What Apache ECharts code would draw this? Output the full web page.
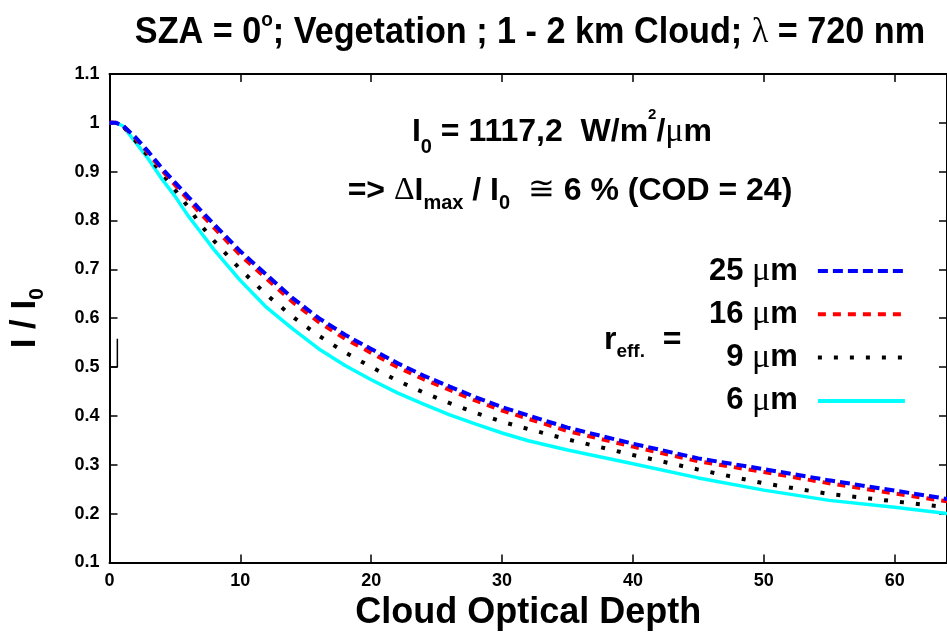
<!DOCTYPE html>
<html>
<head>
<meta charset="utf-8">
<script src="https://cdn.jsdelivr.net/npm/echarts@6/dist/echarts.min.js"></script>
<style>
  html, body { margin: 0; padding: 0; background: #fff; }
  #chart { width: 947px; height: 641px; }
</style>
</head>
<body>
<div id="chart"></div>
<script>
// Cloud optical depth samples (x) and normalised radiance I/I0 for each effective radius
const cod = [0, 0.5, 1, 2, 3, 4, 5, 6, 7, 8, 10, 12, 14, 16, 18, 20, 22, 24, 26, 28, 30, 32, 35, 40, 45, 50, 55, 60, 64];
const reff25 = [1.0, 1.0, 0.995, 0.970, 0.940, 0.907, 0.878, 0.849, 0.820, 0.792, 0.737, 0.689, 0.641, 0.600, 0.566, 0.537, 0.508, 0.4825, 0.460, 0.438, 0.418, 0.401, 0.376, 0.343, 0.313, 0.291, 0.268, 0.247, 0.230];
const reff16 = [1.0, 1.0, 0.995, 0.968, 0.937, 0.903, 0.873, 0.843, 0.813, 0.785, 0.729, 0.681, 0.633, 0.592, 0.558, 0.529, 0.500, 0.475, 0.453, 0.431, 0.411, 0.394, 0.369, 0.337, 0.307, 0.285, 0.262, 0.241, 0.225];
const reff9  = [1.0, 1.0, 0.994, 0.963, 0.930, 0.897, 0.863, 0.828, 0.790, 0.758, 0.700, 0.648, 0.603, 0.564, 0.530, 0.500, 0.472, 0.448, 0.426, 0.406, 0.388, 0.373, 0.352, 0.320, 0.290, 0.262, 0.240, 0.225, 0.213];
const reff6  = [1.0, 1.0, 0.994, 0.960, 0.925, 0.885, 0.850, 0.810, 0.775, 0.740, 0.677, 0.622, 0.578, 0.537, 0.503, 0.474, 0.447, 0.424, 0.402, 0.383, 0.365, 0.349, 0.330, 0.302, 0.273, 0.248, 0.227, 0.213, 0.200];

// Small bracket mark near the left axis
const bracketX = [0, 0.6, 0.6];
const bracketY = [0.5, 0.5, 0.558];

const seriesNames = ['25 μm', '16 μm', '9 μm', '6 μm'];
const xRange = [0, 64];
const yRange = [0.1, 1.1];

const SANS = "'Liberation Sans', Arial, Helvetica, sans-serif";
const SERIF = "'Liberation Serif', 'DejaVu Serif', serif";

const pairs = (xs, ys) => xs.map((x, i) => [x, ys[i]]);

const chart = echarts.init(document.getElementById('chart'), null, { renderer: 'canvas' });

const frameAxisLine = { show: true, onZero: false, lineStyle: { color: '#000', width: 2 } };
const frameTick = { show: true, inside: true, length: 8, lineStyle: { color: '#000', width: 1.5 } };
const tickFont = { color: '#000', fontFamily: SANS, fontWeight: 'bold', fontSize: 18 };

const option = {
  animation: false,
  backgroundColor: '#fff',
  grid: { left: 108, top: 74, width: 842, height: 488.4, containLabel: false },
  xAxis: [
    {
      type: 'value', min: xRange[0], max: xRange[1], interval: 10, position: 'bottom',
      axisLine: frameAxisLine, axisTick: frameTick, splitLine: { show: false },
      axisLabel: Object.assign({ margin: 10, showMaxLabel: false }, tickFont),
      name: 'Cloud Optical Depth', nameLocation: 'middle', nameGap: 33,
      nameTextStyle: { color: '#000', fontFamily: SANS, fontWeight: 'bold', fontSize: 36 }
    },
    {
      type: 'value', min: xRange[0], max: xRange[1], interval: 10, position: 'top',
      axisLine: frameAxisLine, axisTick: frameTick, splitLine: { show: false },
      axisLabel: { show: false }
    }
  ],
  yAxis: [
    {
      type: 'value', min: yRange[0], max: yRange[1], interval: 0.1, position: 'left',
      axisLine: frameAxisLine, axisTick: frameTick, splitLine: { show: false },
      axisLabel: Object.assign({ margin: 10 }, tickFont),
      name: '{a|I / I}{s|0}', nameLocation: 'middle', nameRotate: 90, nameGap: 62,
      nameTextStyle: {
        rich: {
          a: { fontFamily: SANS, fontWeight: 'bold', fontSize: 35, lineHeight: 44, color: '#000' },
          s: { fontFamily: SANS, fontWeight: 'bold', fontSize: 21, lineHeight: 21, verticalAlign: 'bottom', color: '#000' }
        }
      }
    },
    {
      type: 'value', min: yRange[0], max: yRange[1], interval: 0.1, position: 'right',
      axisLine: frameAxisLine, axisTick: frameTick, splitLine: { show: false },
      axisLabel: { show: false }
    }
  ],
  legend: {
    orient: 'vertical',
    left: 709,
    top: 254,
    align: 'right',
    padding: 0,
    itemWidth: 87,
    itemHeight: 14,
    itemGap: 9.3,
    data: seriesNames,
    itemStyle: { opacity: 0 },
    lineStyle: { width: 4 },
    formatter: name => '{n|' + name.split(' ')[0] + ' }{mu|μ}{n|m}',
    textStyle: {
      width: 110,
      align: 'right',
      padding: [0, 15, 0, 0],
      rich: {
        n: { fontFamily: SANS, fontWeight: 'bold', fontSize: 31, lineHeight: 30, color: '#000' },
        mu: { fontFamily: SERIF, fontWeight: 'normal', fontSize: 34, lineHeight: 30, color: '#000' }
      }
    }
  },
  graphic: [
    {
      type: 'text', x: 530, y: 33, scaleX: 0.95,
      style: {
        text: '{t|SZA = 0}{sup|o}{t|; Vegetation ; 1 - 2 km Cloud; }{g|λ}{t| = 720 nm}',
        align: 'center', verticalAlign: 'middle',
        rich: {
          t: { fontFamily: SANS, fontWeight: 'bold', fontSize: 36, lineHeight: 46, fill: '#000' },
          sup: { fontFamily: SANS, fontWeight: 'bold', fontSize: 20, lineHeight: 20, verticalAlign: 'top', fill: '#000' },
          g: { fontFamily: SERIF, fontWeight: 'normal', fontSize: 36, lineHeight: 46, fill: '#000' }
        }
      }
    },
    {
      type: 'text', x: 562, y: 132,
      style: {
        text: '{b|I}{s|0}{b| = 1117,2  W/m}{p|2}{b|/}{g|μ}{b|m}',
        align: 'center', verticalAlign: 'middle',
        rich: {
          b: { fontFamily: SANS, fontWeight: 'bold', fontSize: 32, lineHeight: 50, fill: '#000' },
          s: { fontFamily: SANS, fontWeight: 'bold', fontSize: 20, lineHeight: 20, verticalAlign: 'bottom', fill: '#000' },
          p: { fontFamily: SANS, fontWeight: 'bold', fontSize: 15, lineHeight: 15, verticalAlign: 'top', fill: '#000' },
          g: { fontFamily: SERIF, fontWeight: 'normal', fontSize: 34, lineHeight: 50, fill: '#000' }
        }
      }
    },
    {
      type: 'text', x: 570, y: 191,
      style: {
        text: '{b|=> }{g|Δ}{b|I}{s|max}{b| / I}{s|0}{b|  }{g|≅}{b| 6 % (COD = 24)}',
        align: 'center', verticalAlign: 'middle',
        rich: {
          b: { fontFamily: SANS, fontWeight: 'bold', fontSize: 32, lineHeight: 44, fill: '#000' },
          s: { fontFamily: SANS, fontWeight: 'bold', fontSize: 20, lineHeight: 20, verticalAlign: 'bottom', fill: '#000' },
          g: { fontFamily: SERIF, fontWeight: 'normal', fontSize: 32, lineHeight: 44, fill: '#000' }
        }
      }
    },
    {
      type: 'text', x: 604, y: 340,
      style: {
        text: '{b|r}{s|eff.}{b|  =}',
        align: 'left', verticalAlign: 'middle',
        rich: {
          b: { fontFamily: SANS, fontWeight: 'bold', fontSize: 32, lineHeight: 42, fill: '#000' },
          s: { fontFamily: SANS, fontWeight: 'bold', fontSize: 19, lineHeight: 19, verticalAlign: 'bottom', fill: '#000' }
        }
      }
    }
  ],
  series: [
    {
      name: seriesNames[3], type: 'line', data: pairs(cod, reff6), symbol: 'none', smooth: false,
      lineStyle: { color: '#00ffff', width: 3.5, type: 'solid' }, itemStyle: { color: '#00ffff' }
    },
    {
      name: seriesNames[2], type: 'line', data: pairs(cod, reff9), symbol: 'none', smooth: false,
      lineStyle: { color: '#000000', width: 4, type: [4, 12], cap: 'butt' }, itemStyle: { color: '#000000' }
    },
    {
      name: seriesNames[1], type: 'line', data: pairs(cod, reff16), symbol: 'none', smooth: false,
      lineStyle: { color: '#ff0000', width: 4, type: [8, 7], cap: 'butt' }, itemStyle: { color: '#ff0000' }
    },
    {
      name: seriesNames[0], type: 'line', data: pairs(cod, reff25), symbol: 'none', smooth: false,
      lineStyle: { color: '#0000ff', width: 4, type: [10, 5], cap: 'butt' }, itemStyle: { color: '#0000ff' }
    },
    {
      name: 'bracket', type: 'line', data: pairs(bracketX, bracketY), symbol: 'none', silent: true,
      lineStyle: { color: '#000', width: 1.5 }, z: 3
    }
  ]
};

chart.setOption(option);
</script>
</body>
</html>
